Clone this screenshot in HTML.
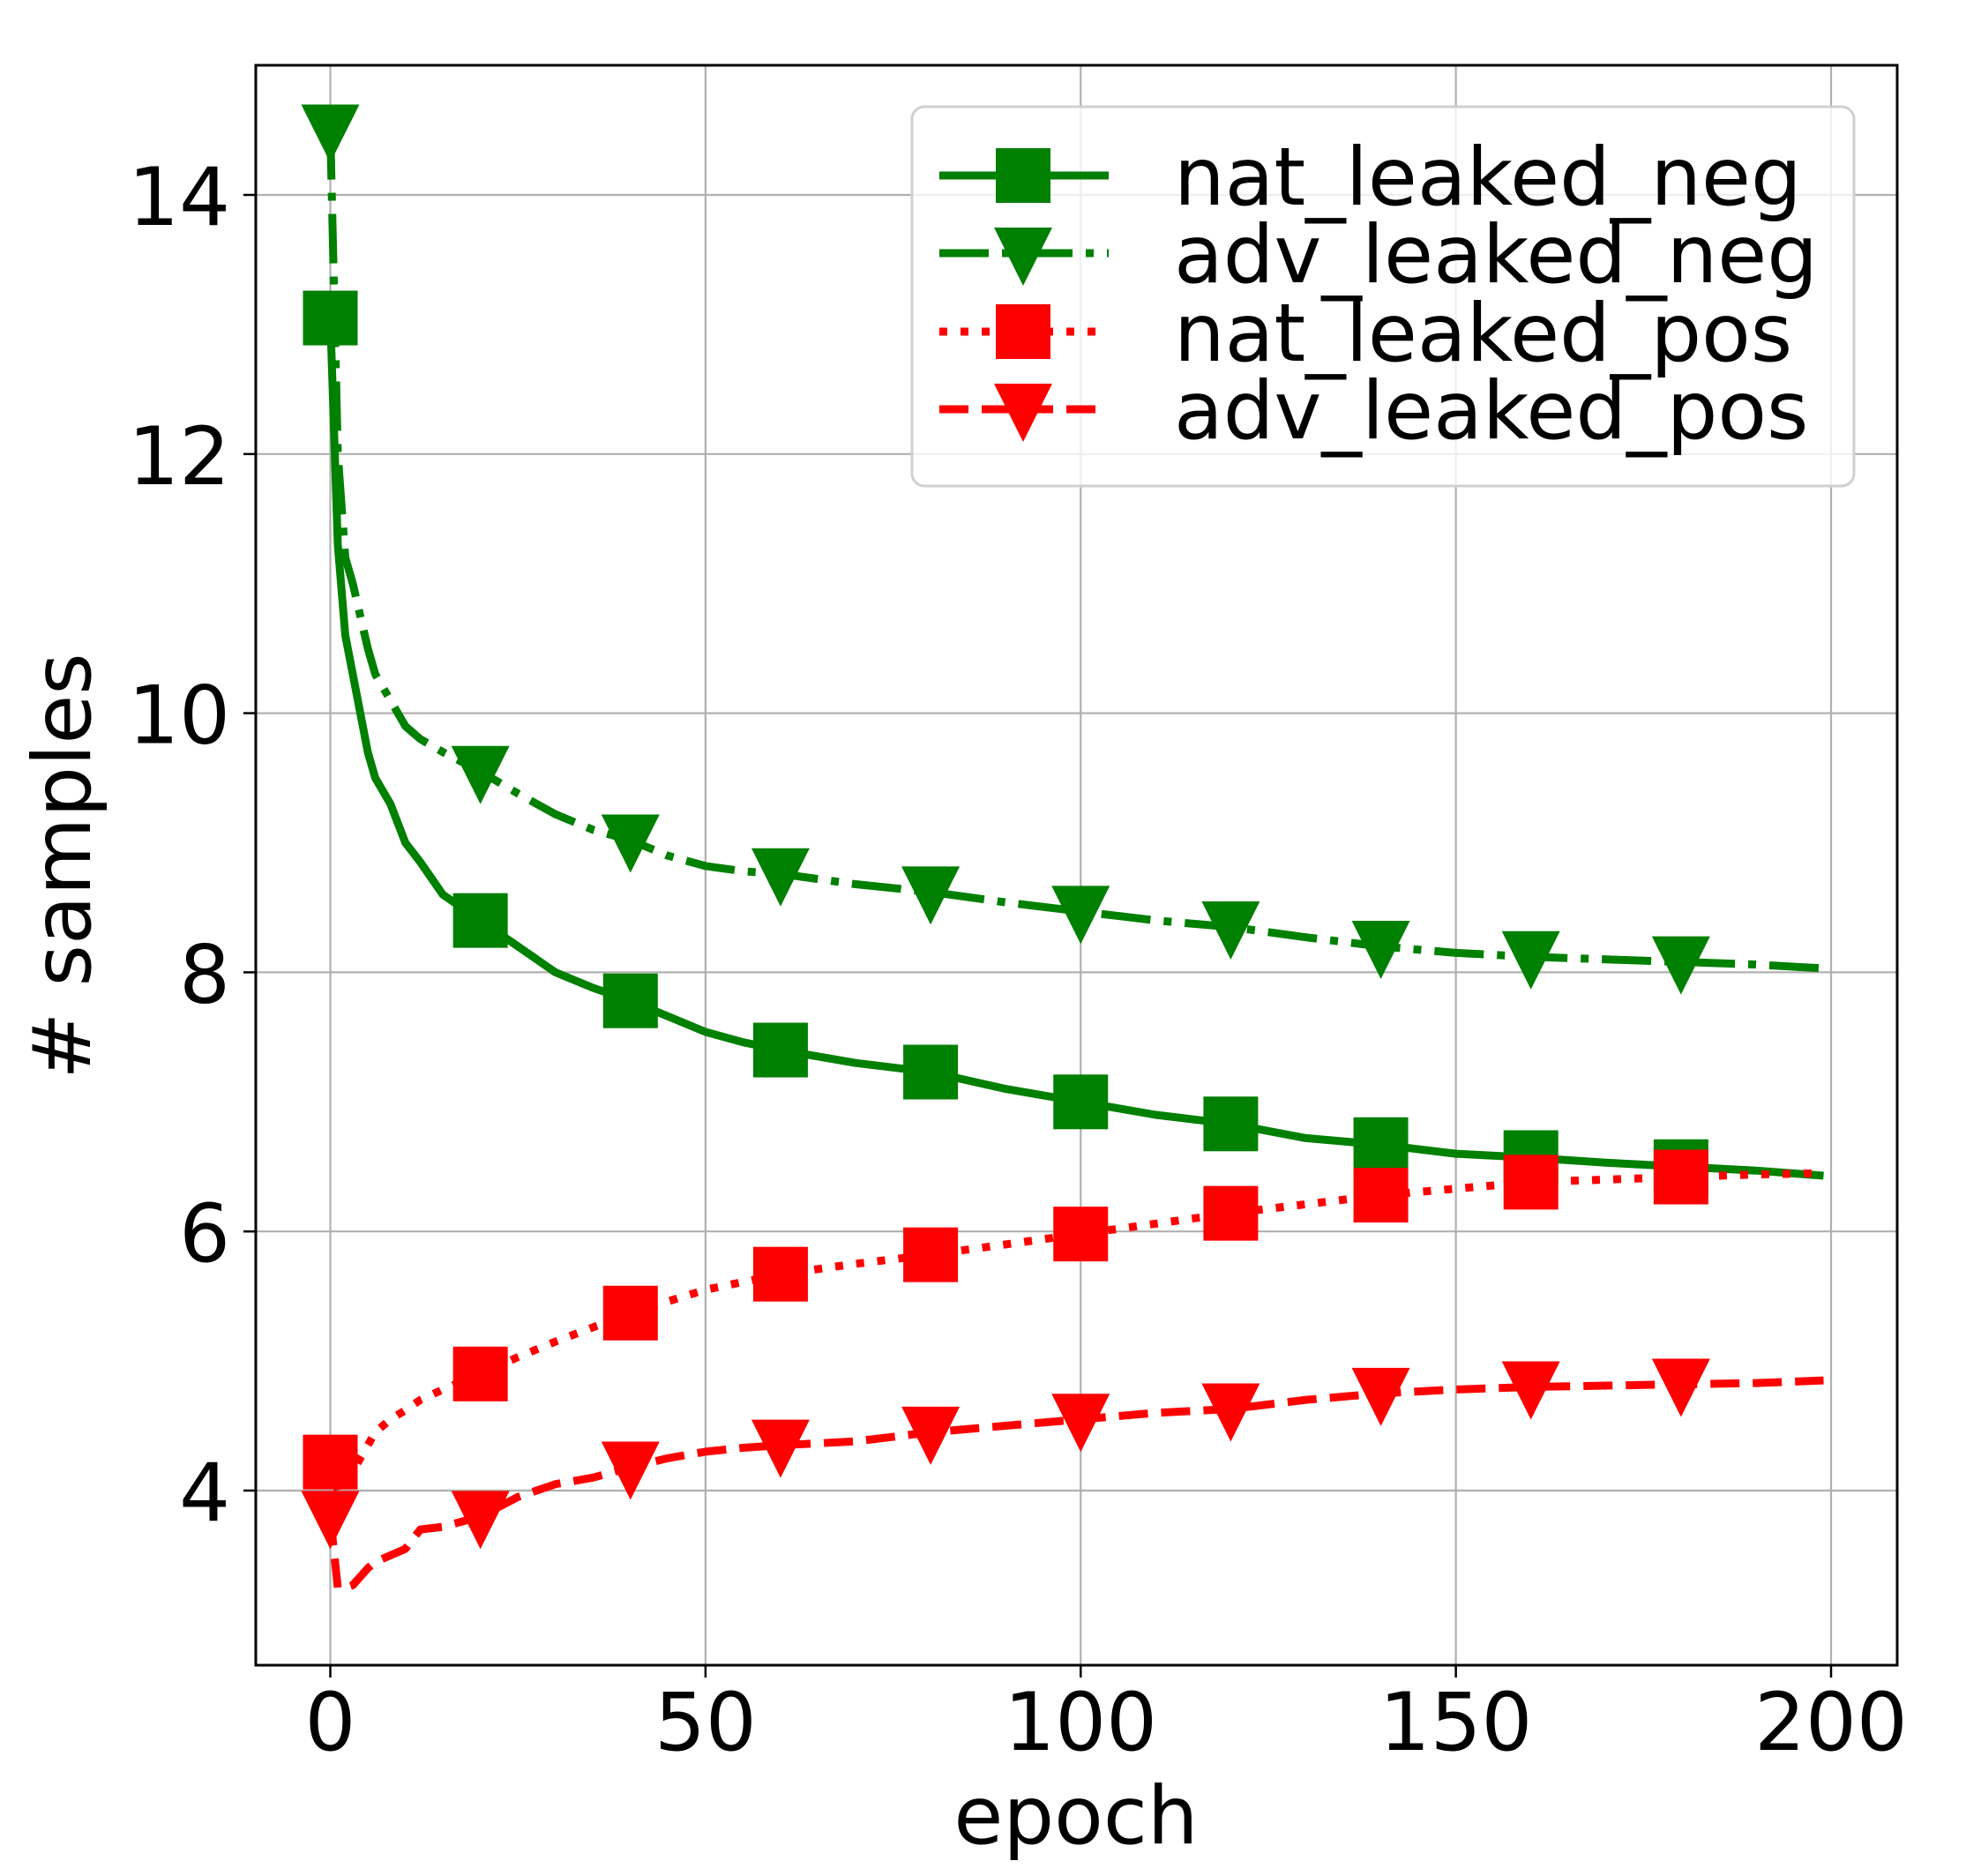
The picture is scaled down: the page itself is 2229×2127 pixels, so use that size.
<!DOCTYPE html>
<html><head><meta charset="utf-8">
<style>
html,body{margin:0;padding:0;background:#fff;}
svg{display:block;}
text{font-family:"DejaVu Sans","Liberation Sans",sans-serif;fill:#000;}
</style></head>
<body>
<svg id="chart" width="2229" height="2127" viewBox="0 0 2229 2127" xmlns="http://www.w3.org/2000/svg">
<rect x="0" y="0" width="2229" height="2127" fill="#fff"/>
<g id="grid"></g>
<g id="series"></g>
<rect x="290" y="74" width="1861" height="1814" fill="none" stroke="#000" stroke-width="3"/>
<g id="ticks"></g>
<text x="1220" y="2090" font-size="91" text-anchor="middle">epoch</text>
<text x="0" y="0" font-size="91" text-anchor="middle" transform="translate(102,982) rotate(-90)"># samples</text>
<g id="legend"></g>
</svg>
<script>
const xTicks = [0, 50, 100, 150, 200];
const yTicks = [4, 6, 8, 10, 12, 14];
const epochs = [0,1,2,3,5,6,8,10,12,15,20,25,30,35,40,45,50,55,60,70,80,90,100,110,120,130,140,150,160,170,180,190,199];
const natNeg = [13.05,11.3,10.6,10.3,9.7,9.5,9.3,9.0,8.85,8.6,8.4,8.2,8.0,7.88,7.78,7.66,7.54,7.46,7.4,7.3,7.23,7.1,7.0,6.9,6.83,6.72,6.67,6.6,6.57,6.53,6.5,6.47,6.43];
const advNeg = [14.5,12.0,11.2,11.0,10.5,10.3,10.1,9.9,9.8,9.7,9.55,9.38,9.22,9.1,9.02,8.9,8.82,8.78,8.76,8.68,8.62,8.54,8.47,8.4,8.35,8.27,8.2,8.15,8.12,8.1,8.08,8.06,8.03];
const natPos = [4.22,4.0,4.05,4.15,4.35,4.45,4.55,4.62,4.7,4.78,4.9,5.03,5.15,5.26,5.37,5.46,5.55,5.61,5.67,5.75,5.82,5.9,5.98,6.06,6.14,6.21,6.28,6.33,6.38,6.4,6.42,6.44,6.45];
const advPos = [3.8,3.25,3.25,3.27,3.4,3.45,3.5,3.55,3.7,3.72,3.8,3.95,4.05,4.1,4.18,4.25,4.3,4.33,4.35,4.38,4.45,4.5,4.55,4.6,4.63,4.7,4.75,4.78,4.8,4.81,4.82,4.83,4.85];
const markerEvery = [0,20,40,60,80,100,120,140,160,180];

const NS='http://www.w3.org/2000/svg';
const X0=290,X1=2151,Y0=74,Y1=1888;
function xs(v){return 374.5+(v-0)*(2076-374.5)/200;}
function ys(v){return 221+(14-v)*146.9;}
function mk(tag,attrs,parent){const e=document.createElementNS(NS,tag);for(const k in attrs)e.setAttribute(k,attrs[k]);parent.appendChild(e);return e;}

const grid=document.getElementById('grid'),ticks=document.getElementById('ticks');
xTicks.forEach(t=>{
  const x=xs(t);
  const g=mk('line',{x1:x,x2:x,y1:Y0,y2:Y1,stroke:'#b0b0b0','stroke-width':2.2},grid);
  
  
  const tk=mk('line',{x1:x,x2:x,y1:Y1,y2:Y1+14,stroke:'#000','stroke-width':2.5},ticks);
  
  
  const tl=mk('text',{x:x,y:1984,'font-size':91,'text-anchor':'middle'},ticks);
  tl.textContent=t;
  
  
});
yTicks.forEach(t=>{
  const y=ys(t);
  const g=mk('line',{x1:X0,x2:X1,y1:y,y2:y,stroke:'#b0b0b0','stroke-width':2.2},grid);
  
  
  const tk=mk('line',{x1:X0-14,x2:X0,y1:y,y2:y,stroke:'#000','stroke-width':2.5},ticks);
  
  
  const tl=mk('text',{x:261,y:y+34,'font-size':91,'text-anchor':'end'},ticks);
  tl.textContent=t;
  
  
});

const LW=9;
const styles=[
 {name:'nat_leaked_neg',data:natNeg,color:'#008000',dash:'',marker:'sq'},
 {name:'adv_leaked_neg',data:advNeg,color:'#008000',dash:'56,15,9,15',marker:'tri'},
 {name:'nat_leaked_pos',data:natPos,color:'#ff0000',dash:'9,15',marker:'sq'},
 {name:'adv_leaked_pos',data:advPos,color:'#ff0000',dash:'33,15',marker:'tri'}
];
function drawMarker(type,x,y,color,parent){
  if(type==='sq'){return mk('rect',{x:x-31,y:y-31,width:62,height:62,fill:color},parent);}
  return mk('polygon',{points:`${x-33},${y-29} ${x+33},${y-29} ${x},${y+37}`,fill:color},parent);
}
const series=document.getElementById('series');
styles.forEach(s=>{
  const g=mk('g',{},series);
  
  
  const d=epochs.map((e,i)=>(i?'L':'M')+xs(e).toFixed(1)+','+ys(s.data[i]).toFixed(1)).join(' ');
  const p=mk('path',{d:d,fill:'none',stroke:s.color,'stroke-width':LW,'stroke-linejoin':'round'},g);
  if(s.dash)p.setAttribute('stroke-dasharray',s.dash);
  
  
  markerEvery.forEach(e=>{
    const i=epochs.indexOf(e);
    const m=drawMarker(s.marker,xs(e),ys(s.data[i]),s.color,g);
    
    
  });
});

const legend=document.getElementById('legend');
const lb=mk('rect',{x:1034,y:121,width:1068,height:430,rx:14,fill:'#fff','fill-opacity':0.8,stroke:'#d0d0d0','stroke-width':3},legend);


const rowsY=[199,287,376,464];
styles.forEach((s,i)=>{
  const y=rowsY[i];
  const g=mk('g',{},legend);
  
  
  const l=mk('line',{x1:1065,x2:1257,y1:y,y2:y,stroke:s.color,'stroke-width':LW},g);
  if(s.dash)l.setAttribute('stroke-dasharray',s.dash);
  
  
  const m=drawMarker(s.marker,1160,y,s.color,g);
  
  
  const t=mk('text',{x:1331,y:y+33,'font-size':91},g);
  t.textContent=s.name;
  
  
});
</script>
</body></html>
